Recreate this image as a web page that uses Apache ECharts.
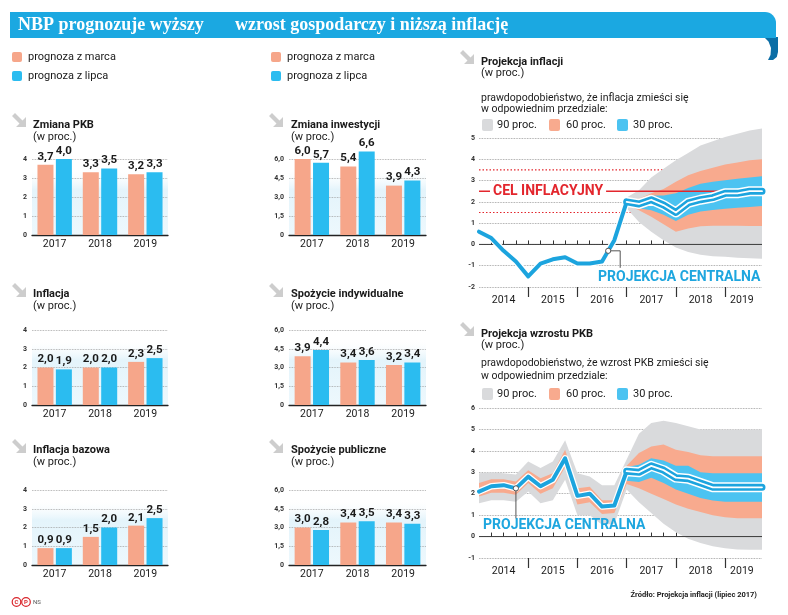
<!DOCTYPE html>
<html><head><meta charset="utf-8">
<script src="https://cdn.jsdelivr.net/npm/echarts@6/dist/echarts.min.js"></script>
<style>html,body{margin:0;padding:0;background:#fff}#c{width:788px;height:615px}</style>
</head><body><div id="c"></div>
<script>
// ---------- DATA ----------
const BAR_YEARS = ['2017', '2018', '2019'];
const PKB_MARCH = [3.7, 3.3, 3.2];
const PKB_JULY = [4.0, 3.5, 3.3];
const INFL_MARCH = [2.0, 2.0, 2.3];
const INFL_JULY = [1.9, 2.0, 2.5];
const CORE_MARCH = [0.9, 1.5, 2.1];
const CORE_JULY = [0.9, 2.0, 2.5];
const INV_MARCH = [6.0, 5.4, 3.9];
const INV_JULY = [5.7, 6.6, 4.3];
const PRIV_MARCH = [3.9, 3.4, 3.2];
const PRIV_JULY = [4.4, 3.6, 3.4];
const PUB_MARCH = [3.0, 3.4, 3.4];
const PUB_JULY = [2.8, 3.5, 3.3];
const TICKS_SMALL = [0, 1, 2, 3, 4];
const TICKS_LARGE = [0, 1.5, 3, 4.5, 6];

const FAN_YEARS = ['2014', '2015', '2016', '2017', '2018', '2019'];
const QUARTERS = FAN_YEARS.flatMap(y => ['I', 'II', 'III', 'IV'].map(q => q + ' kw. ' + y));
const YEAR_LABEL_IDX = [2, 6, 10, 14, 18, 21];

// inflation projection (quarterly, 2014 Q1 .. 2019 Q4)
const INFL_CENTRAL = [0.6, 0.3, -0.3, -0.8, -1.5, -0.9, -0.7, -0.6, -0.9, -0.9, -0.8, 0.2,
                      2.0, 1.9, 2.1, 1.85, 1.5, 1.95, 2.1, 2.2, 2.4, 2.4, 2.5, 2.5];
const INFL_PROJ_START = 12;
const INFL_90_LOW  = [1.7, 1.05, 0.6, 0.2, -0.15, -0.35, -0.48, -0.55, -0.58, -0.62, -0.65, -0.67];
const INFL_90_HIGH = [2.2, 2.55, 3.15, 3.55, 3.95, 4.3, 4.65, 4.85, 5.05, 5.2, 5.35, 5.45];
const INFL_60_LOW  = [1.85, 1.6, 1.3, 0.95, 0.6, 0.75, 0.85, 0.88, 0.88, 0.88, 0.87, 0.86];
const INFL_60_HIGH = [2.1, 2.15, 2.4, 2.6, 2.95, 3.25, 3.45, 3.6, 3.75, 3.85, 3.95, 4.0];
const INFL_30_LOW  = [1.9, 1.7, 1.6, 1.4, 1.1, 1.4, 1.55, 1.62, 1.68, 1.72, 1.76, 1.8];
const INFL_30_HIGH = [2.05, 2.05, 2.3, 2.3, 2.4, 2.65, 2.85, 2.95, 3.02, 3.08, 3.14, 3.2];
const INFL_TARGET = 2.5;
const INFL_TOLERANCE = [1.5, 3.5];

// GDP projection (quarterly, 2014 Q1 .. 2019 Q4)
const PKB_CENTRAL = [2.1, 2.35, 2.4, 2.25, 2.8, 2.35, 2.65, 3.65, 1.9, 2.0, 1.4, 1.45,
                     3.05, 3.0, 3.3, 3.1, 2.75, 2.7, 2.5, 2.3, 2.3, 2.3, 2.3, 2.3];
const PKB_PROJ_START = 12;
const PKB_90_LOW  = [1.55, 1.7, 1.7, 1.63, 2.1, 1.55, 1.7, 2.65, 1.0, 1.0, 0.55, 0.6,
                     2.2, 1.6, 1.1, 0.6, 0.2, -0.1, -0.3, -0.45, -0.55, -0.6, -0.62, -0.62];
const PKB_90_HIGH = [2.95, 3.0, 2.95, 2.9, 3.5, 3.2, 3.5, 4.5, 2.95, 2.8, 2.4, 2.4,
                     3.6, 4.8, 5.3, 5.4, 5.3, 5.15, 5.0, 5.0, 5.0, 5.0, 5.0, 5.0];
const PKB_60_LOW  = [1.87, 2.05, 2.05, 1.95, 2.5, 2.0, 2.25, 3.25, 1.5, 1.6, 1.05, 1.1,
                     2.45, 2.25, 2.0, 1.75, 1.5, 1.3, 1.15, 1.0, 0.9, 0.85, 0.85, 0.85];
const PKB_60_HIGH = [2.5, 2.67, 2.67, 2.57, 3.1, 2.72, 2.95, 4.05, 2.25, 2.33, 1.7, 1.7,
                     3.3, 3.9, 4.2, 4.3, 4.05, 3.95, 3.8, 3.75, 3.75, 3.75, 3.75, 3.75];
const PKB_30_LOW  = [2.6, 2.55, 2.75, 2.5, 2.2, 2.0, 1.8, 1.68, 1.63, 1.63, 1.63, 1.63];
const PKB_30_HIGH = [3.25, 3.35, 3.65, 3.55, 3.3, 3.3, 3.0, 2.95, 2.95, 2.95, 2.95, 2.95];
const INFL_TICKS = [-2, 5, 1];
const PKB_TICKS = [-1, 6, 1];

// ---------- STYLE ----------
const ORANGE = '#f6a68a', BLUE = '#2bbcf0';
const GRAY_FAN = '#d9dadc', ORANGE_FAN = '#f8aa8e', BLUE_FAN = '#4cc3f1';
const LINE_BLUE = '#1ca4de', RED = '#e3262d', TXT = '#1a1a1a', LABEL_BLUE = '#1ea6df';
const FONT = 'Roboto';

const chart = echarts.init(document.getElementById('c'), null, {width: 788, height: 615});
const comma = v => v.toFixed(1).replace('.', ',');

const barCharts = [
  {title: 'Zmiana PKB', march: PKB_MARCH, july: PKB_JULY, ticks: TICKS_SMALL, left: 32, width: 136, top: 159, h: 76, tx: 33, ty: 125, ix: 12, iy: 113},
  {title: 'Inflacja', march: INFL_MARCH, july: INFL_JULY, ticks: TICKS_SMALL, left: 32, width: 136, top: 330, h: 75, tx: 33, ty: 294, ix: 12, iy: 283},
  {title: 'Inflacja bazowa', march: CORE_MARCH, july: CORE_JULY, ticks: TICKS_SMALL, left: 32, width: 136, top: 490, h: 75, tx: 33, ty: 450, ix: 12, iy: 439},
  {title: 'Zmiana inwestycji', march: INV_MARCH, july: INV_JULY, ticks: TICKS_LARGE, left: 289, width: 137, top: 159, h: 76, tx: 291, ty: 125, ix: 269, iy: 113},
  {title: 'Spożycie indywidualne', march: PRIV_MARCH, july: PRIV_JULY, ticks: TICKS_LARGE, left: 289, width: 137, top: 330, h: 75, tx: 291, ty: 294, ix: 269, iy: 283},
  {title: 'Spożycie publiczne', march: PUB_MARCH, july: PUB_JULY, ticks: TICKS_LARGE, left: 289, width: 137, top: 490, h: 75, tx: 291, ty: 450, ix: 269, iy: 439}
];

const grid = [], xAxis = [], yAxis = [], series = [];

barCharts.forEach((b, k) => {
  grid.push({left: b.left, top: b.top, width: b.width, height: b.h, outerBoundsMode: 'none',
    show: true, borderWidth: 0,
    backgroundColor: new echarts.graphic.LinearGradient(0, 0, 0, 1, [
      {offset: 0, color: 'rgba(255,255,255,0)'}, {offset: 0.12, color: 'rgba(255,255,255,0)'},
      {offset: 0.4, color: '#e4f4fb'}, {offset: 1, color: '#edf8fd'}])});
  const step = b.ticks[1] - b.ticks[0];
  xAxis.push({type: 'category', gridIndex: k, data: BAR_YEARS,
    axisLine: {lineStyle: {color: '#222', width: 1.3}}, axisTick: {show: false},
    axisLabel: {fontFamily: FONT, fontSize: 10.5, color: TXT, margin: 4}});
  yAxis.push({type: 'value', gridIndex: k, min: b.ticks[0], max: b.ticks[b.ticks.length - 1], interval: step,
    axisLine: {show: false}, axisTick: {show: false},
    axisLabel: {fontFamily: FONT, fontSize: 7, fontWeight: 'bold', color: '#333', margin: 5,
      formatter: v => v === 0 ? '0' : (Number.isInteger(step) ? String(v) : comma(v))},
    splitLine: {lineStyle: {type: 'dotted', color: '#9a9a9a', width: 0.8}}});
  [[b.march, ORANGE], [b.july, BLUE]].forEach(([d, c]) => {
    series.push({type: 'bar', xAxisIndex: k, yAxisIndex: k, data: d, barWidth: 16, barGap: '15%',
      clip: false, silent: true, itemStyle: {color: c},
      label: {show: true, position: 'top', distance: 2, formatter: p => comma(p.value),
        fontFamily: FONT, fontWeight: 'bold', fontSize: 11.5, color: TXT}});
  });
});

// ---------- FAN CHARTS ----------
const fans = [
  {grid: {left: 479, top: 138, width: 283, height: 149}, ticks: INFL_TICKS, central: INFL_CENTRAL, start: INFL_PROJ_START,
   bands: [[INFL_PROJ_START, INFL_90_LOW, INFL_90_HIGH, GRAY_FAN], [INFL_PROJ_START, INFL_60_LOW, INFL_60_HIGH, ORANGE_FAN], [INFL_PROJ_START, INFL_30_LOW, INFL_30_HIGH, BLUE_FAN]]},
  {grid: {left: 479, top: 408, width: 283, height: 150}, ticks: PKB_TICKS, central: PKB_CENTRAL, start: PKB_PROJ_START,
   bands: [[0, PKB_90_LOW, PKB_90_HIGH, GRAY_FAN], [0, PKB_60_LOW, PKB_60_HIGH, ORANGE_FAN], [PKB_PROJ_START, PKB_30_LOW, PKB_30_HIGH, BLUE_FAN]]}
];
const fanAxes = [];
const refLine = v => QUARTERS.map((q, i) => (i === 0 || i === QUARTERS.length - 1) ? v : null);

fans.forEach((f, n) => {
  const g = grid.length;
  grid.push(Object.assign({outerBoundsMode: 'none'}, f.grid));
  const xi = xAxis.length;
  xAxis.push({type: 'category', gridIndex: g, data: QUARTERS, boundaryGap: false,
    axisLine: {show: false},
    axisTick: {show: true, inside: true, length: 4, interval: i => i > 0 && i < QUARTERS.length - 1,
      lineStyle: {color: '#333', width: 1}},
    axisLabel: {interval: i => YEAR_LABEL_IDX.includes(i), margin: 8, fontFamily: FONT, fontSize: 10.5, color: TXT,
      formatter: (v, i) => i === YEAR_LABEL_IDX[YEAR_LABEL_IDX.length - 1] ? '{r|' + FAN_YEARS[Math.floor(i / 4)] + '}' : FAN_YEARS[Math.floor(i / 4)],
      rich: {r: {padding: [0, 0, 0, 9], fontFamily: FONT, fontSize: 10.5, color: TXT}}},
    splitLine: {show: false}});
  xAxis.push({type: 'category', gridIndex: g, data: QUARTERS, boundaryGap: false, position: 'bottom',
    axisLine: {show: false},
    axisTick: {show: true, length: 10, interval: i => i > 0 && i % 4 === 0, lineStyle: {color: '#333', width: 1.2}},
    axisLabel: {show: false}, splitLine: {show: false}});
  const yi = yAxis.length;
  yAxis.push({type: 'value', gridIndex: g, min: f.ticks[0], max: f.ticks[1], interval: f.ticks[2],
    axisLine: {show: false}, axisTick: {show: false},
    axisLabel: {fontFamily: FONT, fontSize: 7, fontWeight: 'bold', color: '#333', margin: 4},
    splitLine: {lineStyle: {type: 'dotted', color: '#8f8f8f', width: 0.8}}});
  fanAxes.push({xi, yi});

  if (n === 0) {
    INFL_TOLERANCE.forEach(v => series.push({type: 'line', xAxisIndex: xi, yAxisIndex: yi, data: refLine(v), connectNulls: true,
      symbol: 'none', silent: true, z: 2, lineStyle: {color: RED, width: 1.2, type: [1.5, 2]}}));
  }
  f.bands.forEach(([s, lo, hi, col], j) => {
    series.push({type: 'custom', xAxisIndex: xi, yAxisIndex: yi, z: 3 + j, silent: true, clip: false,
      data: [[s, lo[0]]],
      renderItem: (params, api) => {
        const bot = lo.map((v, k) => api.coord([s + k, v]));
        const top = hi.map((v, k) => api.coord([s + k, v])).reverse();
        return {type: 'polygon', shape: {points: bot.concat(top)}, style: {fill: col}};
      }});
  });
  series.push({type: 'line', xAxisIndex: xi, yAxisIndex: yi, data: refLine(0), connectNulls: true,
    symbol: 'none', silent: true, z: 6, lineStyle: {color: '#3a3a3a', width: 1}});
  if (n === 0) {
    series.push({type: 'line', xAxisIndex: xi, yAxisIndex: yi, data: refLine(INFL_TARGET), connectNulls: true,
      symbol: 'none', silent: true, z: 6, lineStyle: {color: RED, width: 1.5}});
  }
  const hist = f.central.map((v, i) => i <= f.start ? v : null);
  const proj = f.central.map((v, i) => i >= f.start ? v : null);
  const L = (d, c, w, z) => ({type: 'line', xAxisIndex: xi, yAxisIndex: yi, data: d, symbol: 'none', silent: true, z, clip: false,
    lineStyle: {color: c, width: w, cap: 'round', join: 'round'}});
  series.push(L(hist, '#ffffff', 6.5, 7));
  series.push(L(proj, '#ffffff', 10, 7));
  series.push(L(hist, LINE_BLUE, 4, 8));
  series.push(L(proj, LINE_BLUE, 7, 8));
  series.push(L(proj, '#ffffff', 1.8, 9));
});

chart.setOption({animation: false, backgroundColor: '#fff', grid, xAxis, yAxis, series});

// ---------- TEXT & ANNOTATIONS ----------
const G = [];
const txt = (x, y, text, o) => G.push({type: 'text', x, y, z: 20, silent: true,
  style: Object.assign({text, fontFamily: FONT, fontSize: 11, fill: TXT, verticalAlign: 'middle', align: 'left'}, o || {})});
const rect = (x, y, w, h, fill, r) => G.push({type: 'rect', z: 20, silent: true, shape: {x, y, width: w, height: h, r: r || 0}, style: {fill}});
const icon = (x, y) => G.push({type: 'polygon', z: 20, silent: true, x, y,
  shape: {points: [[0, 3], [3, 0], [10.5, 7.5], [14, 4], [14, 14], [4, 14], [7.5, 10.5]]},
  style: {fill: '#cdcdcd'}});

// header
G.push({type: 'rect', z: 19, silent: true, shape: {x: 10, y: 12, width: 766, height: 26, r: [0, 11, 0, 0]}, style: {fill: '#1ba8e1'}});
G.push({type: 'polygon', z: 18, silent: true,
  shape: {points: [[764, 37], [778, 37], [778, 52], [776.8, 57], [773, 60], [768, 60], [770.5, 55], [771, 48], [768.5, 41.5]]},
  style: {fill: '#0b6ea6'}});
txt(18, 25, 'NBP prognozuje wyższy', {fontFamily: 'Liberation Serif', fontWeight: 'bold', fontSize: 18, fill: '#fff'});
txt(235, 25, 'wzrost gospodarczy i niższą inflację', {fontFamily: 'Liberation Serif', fontWeight: 'bold', fontSize: 18, fill: '#fff'});

// bar legends
[[12, 28], [271, 287]].forEach(([sx, tx]) => {
  rect(sx, 52, 10, 10, ORANGE, 2); txt(tx, 57, 'prognoza z marca');
  rect(sx, 71, 10, 10, BLUE, 2); txt(tx, 76, 'prognoza z lipca');
});
// bar titles
barCharts.forEach(b => {
  icon(b.ix, b.iy);
  txt(b.tx, b.ty, b.title, {fontWeight: 'bold'});
  txt(b.tx, b.ty + 12.5, '(w proc.)');
});

// fan titles & legends
[[62, 'Projekcja inflacji', 'prawdopodobieństwo, że inflacja zmieści się', 50],
 [334, 'Projekcja wzrostu PKB', 'prawdopodobieństwo, że wzrost PKB zmieści się', 322]].forEach(([y, t, p, iy], n) => {
  icon(460, iy);
  txt(481, y, t, {fontWeight: 'bold'});
  txt(481, y + 11.5, '(w proc.)');
  const py = n === 0 ? 98 : 363;
  txt(481, py, p, {fontSize: 10.5});
  txt(481, py + (n === 0 ? 11.5 : 13.5), 'w odpowiednim przedziale:', {fontSize: 10.5});
  const ly = n === 0 ? 125 : 394;
  [[482, 497, GRAY_FAN, '90 proc.'], [549, 566, ORANGE_FAN, '60 proc.'], [617, 633, BLUE_FAN, '30 proc.']].forEach(([sx, tx, c, l]) => {
    rect(sx, ly - 6, 11, 12, c, 2); txt(tx, ly, l);
  });
});

// inflation annotations
const ia = fanAxes[0], pa = fanAxes[1];
const p0 = chart.convertToPixel({xAxisIndex: ia.xi, yAxisIndex: ia.yi}, [0, INFL_TARGET]);
txt(p0[0] + 11, p0[1], 'CEL INFLACYJNY', {fontWeight: 'bold', fontSize: 14, fill: RED, backgroundColor: '#fff', padding: [1, 3, 1, 3]});
const a = chart.convertToPixel({xAxisIndex: ia.xi, yAxisIndex: ia.yi}, [10, INFL_CENTRAL[10]]);
const b = chart.convertToPixel({xAxisIndex: ia.xi, yAxisIndex: ia.yi}, [11, INFL_CENTRAL[11]]);
const m = [(a[0] + b[0]) / 2, (a[1] + b[1]) / 2];
G.push({type: 'polyline', z: 21, silent: true, shape: {points: [m, [m[0] + 12, m[1]], [m[0] + 12, m[1] + 17]]}, style: {stroke: '#555', lineWidth: 1, fill: null}});
G.push({type: 'circle', z: 22, silent: true, shape: {cx: m[0], cy: m[1], r: 2.6}, style: {fill: '#fff', stroke: '#555', lineWidth: 1}});
txt(598, m[1] + 27, 'PROJEKCJA CENTRALNA', {fontWeight: 'bold', fontSize: 14, fill: LABEL_BLUE});

// GDP annotations
const q = chart.convertToPixel({xAxisIndex: pa.xi, yAxisIndex: pa.yi}, [3, PKB_CENTRAL[3]]);
G.push({type: 'line', z: 21, silent: true, shape: {x1: q[0], y1: q[1], x2: q[0], y2: q[1] + 30}, style: {stroke: '#555', lineWidth: 1}});
G.push({type: 'circle', z: 22, silent: true, shape: {cx: q[0], cy: q[1], r: 2.6}, style: {fill: '#fff', stroke: '#555', lineWidth: 1}});
txt(483, q[1] + 37, 'PROJEKCJA CENTRALNA', {fontWeight: 'bold', fontSize: 14, fill: LABEL_BLUE});

// source & logo
txt(757, 595, 'Źródło: Projekcja inflacji (lipiec 2017)', {fontSize: 7.5, fontWeight: 'bold', align: 'right'});
[[16.5, 'C'], [26, 'P']].forEach(([cx, s]) => {
  G.push({type: 'circle', z: 20, silent: true, shape: {cx, cy: 602, r: 4.3}, style: {fill: '#fff', stroke: '#d9262c', lineWidth: 1.2}});
  txt(cx, 602.3, s, {fontSize: 6, fontWeight: 'bold', fill: '#d9262c', align: 'center'});
});
txt(33, 602.5, 'NS', {fontSize: 6, fill: '#555'});

chart.setOption({graphic: G});
</script>
</body></html>
